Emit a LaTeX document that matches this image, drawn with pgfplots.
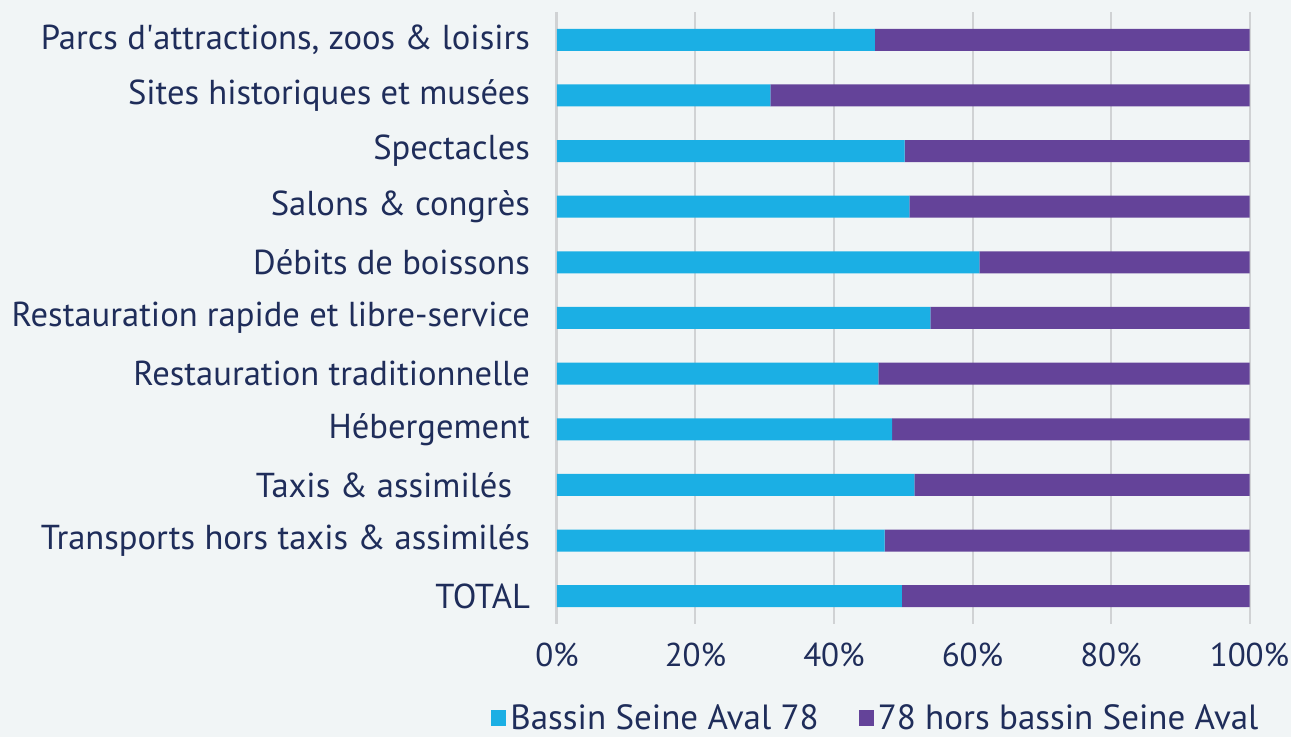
\documentclass[border=0pt]{standalone}
\usepackage{pgfplots}
\pgfplotsset{compat=1.18}
\usepackage{fontspec}
\setmainfont{PT Sans}
\definecolor{cyanbar}{HTML}{1BAFE4}
\definecolor{purplebar}{HTML}{644399}
\definecolor{navy}{HTML}{1F2D5A}
\definecolor{bg}{HTML}{F1F5F6}
\definecolor{gridc}{HTML}{D0D2D4}
\begin{document}
\begin{tikzpicture}
\path[use as bounding box, fill=bg] (0,0) rectangle (645.5pt,368.5pt);
\begin{axis}[
  at={(278.5pt,56.5pt)}, anchor=south west,
  scale only axis, width=346.25pt, height=306pt,
  xbar stacked, bar width=11pt,
  xmin=0, xmax=100, ymin=-0.5, ymax=10.5,
  ytick={0,...,10},
  yticklabels={TOTAL,Transports hors taxis \& assimilés,Taxis \& assimilés\phantom{x},Hébergement,Restauration traditionnelle,Restauration rapide et libre-service,Débits de boissons,Salons \& congrès,Spectacles,Sites historiques et musées,Parcs d\textquotesingle attractions{,} zoos \& loisirs},
  xtick={0,20,...,100},
  xticklabel={\pgfmathprintnumber{\tick}\%},
  /pgf/number format/assume math mode=true,
  axis line style={draw=none},
  major tick length=0pt,
  xmajorgrids, grid style={gridc, line width=1pt},
  extra x ticks={0}, extra x tick labels={}, extra x tick style={grid style={gridc,line width=1.5pt}},
  yticklabel style={font=\fontsize{17.3}{20}\selectfont, text=navy, xshift=-10pt},
  xticklabel style={font=\fontsize{16.5}{19}\selectfont, text=navy, yshift=-6pt},
  legend style={at={(axis description cs:0.462,-0.154)}, anchor=center, draw=none, fill=none,
    legend columns=2, font=\fontsize{17.5}{20}\selectfont, text=navy,
    /tikz/every even column/.append style={column sep=18pt}},
  legend image code/.code={\fill[#1] (0pt,-4pt) rectangle (7.5pt,4pt);},
]
\addplot[fill=cyanbar, draw=none] coordinates {(49.8,0) (47.3,1) (51.6,2) (48.4,3) (46.4,4) (53.9,5) (61.0,6) (50.9,7) (50.2,8) (30.8,9) (45.9,10)};
\addplot[fill=purplebar, draw=none] coordinates {(50.2,0) (52.7,1) (48.4,2) (51.6,3) (53.6,4) (46.1,5) (39.0,6) (49.1,7) (49.8,8) (69.2,9) (54.1,10)};
\legend{Bassin Seine Aval 78, 78 hors bassin Seine Aval}
\end{axis}
\end{tikzpicture}
\end{document}
